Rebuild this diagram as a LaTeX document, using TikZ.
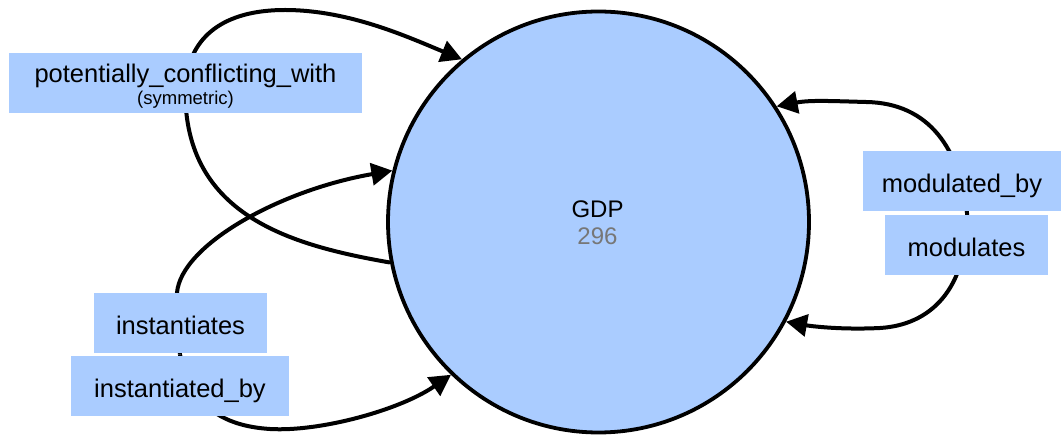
\documentclass[tikz,border=0pt]{standalone}
\usepackage{fontspec}
\setmainfont{Liberation Sans}
\usetikzlibrary{arrows.meta}
\definecolor{nodeblue}{RGB}{170,204,255}
\definecolor{numgray}{RGB}{119,119,119}
\pgfdeclarelayer{bg}
\pgfdeclarelayer{edgelayer}
\pgfsetlayers{bg,edgelayer,main}
\begin{document}
\begin{tikzpicture}[x=1pt,y=-1pt,
  edge/.style={line width=4pt,-{Triangle[length=21pt,width=22pt]}},
  lab/.style={fill=nodeblue,inner sep=0pt,text height=23pt,text depth=0pt,font=\fontsize{25.5}{30}\selectfont},
  txt/.style={anchor=base,inner sep=0pt},
]
\useasboundingbox (0,0) rectangle (1061,435);
\begin{pgfonlayer}{bg}
\node[circle,draw,line width=3.8pt,fill=nodeblue,minimum size=421pt,inner sep=0pt] (gdp) at (598.5,222) {};
\end{pgfonlayer}
\node[txt,font=\fontsize{24}{28}\selectfont] (gdpname) at (597.5,218) {GDP};
\node[txt,font=\fontsize{24}{28}\selectfont,text=numgray] (gdpnum) at (597.5,245) {296};

\node[lab,minimum width=353pt,minimum height=60pt] (pcw) at (185.5,83) {};
\node[txt,font=\fontsize{25.5}{30}\selectfont] (pcwt) at (185.5,83) {potentially\_conflicting\_with};
\node[txt,font=\fontsize{18.5}{22}\selectfont] (pcws) at (185.5,105) {(symmetric)};
\node[lab,minimum width=173pt,minimum height=60pt] (inst) at (180.5,323) {instantiates};
\node[lab,minimum width=218pt,minimum height=60pt] (instby) at (180,386) {instantiated\_by};
\node[lab,minimum width=198pt,minimum height=60pt] (modby) at (962,181) {modulated\_by};
\node[lab,minimum width=163pt,minimum height=60pt] (mods) at (966.5,245) {modulates};

\coordinate (imid) at (180,354.5);
\coordinate (mmid) at (967,213);

\begin{pgfonlayer}{edgelayer}
\draw[edge] (gdp.191) .. controls (290,245) and (180,215) .. (pcw.center)
  .. controls (191,30) and (232,10) .. (285,10)
  .. controls (350,10) and (410,38) .. (gdp.130.5);
\draw[edge] (imid) -- ([xshift=-3.5pt]inst.north) .. controls (181,245) and (280,190) .. (gdp.166.6);
\draw[edge] (imid) .. controls (190,405) and (222,426) .. (270,429)
  .. controls (320,432) and (400,410) .. (gdp.226.8);
\draw[edge] (mmid) .. controls (960,150) and (930,103) .. (866,102)
  .. controls (830,101) and (810,100) .. (gdp.33);
\draw[edge] (mmid) .. controls (968,290) and (930,325) .. (880,328)
  .. controls (840,330) and (810,326) .. (gdp.332.3);
\end{pgfonlayer}
\end{tikzpicture}
\end{document}
